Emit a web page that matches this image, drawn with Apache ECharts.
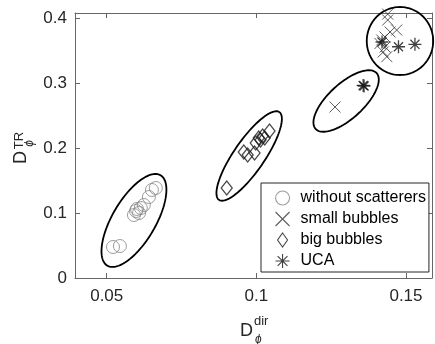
<!DOCTYPE html>
<html><head><meta charset="utf-8">
<script src="https://cdn.jsdelivr.net/npm/echarts@6/dist/echarts.min.js"></script>
<style>html,body{margin:0;padding:0;background:#fff}#c{width:435px;height:344px}</style>
</head><body><div id="c"></div>
<script>
// ---- data ----
const seriesNames = ['without scatterers', 'small bubbles', 'big bubbles', 'UCA'];
const withoutScatterers = [
  [0.0521,0.0477],[0.0544,0.0492],[0.0591,0.0969],[0.0598,0.1031],[0.0601,0.1062],
  [0.0608,0.1000],[0.0614,0.1077],[0.0624,0.1123],[0.0641,0.1246],[0.0651,0.1354],[0.0664,0.1385]
];
const smallBubbles = [
  [0.1263,0.2631],
  [0.1439,0.4060],[0.1439,0.3969],[0.1469,0.3815],[0.1447,0.3785],[0.1430,0.3708],
  [0.1419,0.3662],[0.1413,0.3608],[0.1430,0.3554],[0.1424,0.3477],[0.1436,0.3405]
];
const bigBubbles = [
  [0.0901,0.1385],[0.0958,0.1938],[0.0971,0.1892],[0.0994,0.1923],[0.0998,0.2077],
  [0.1008,0.2154],[0.1014,0.2123],[0.1021,0.2185],[0.1028,0.2154],[0.1044,0.2262]
];
const uca = [
  [0.1357,0.2962],[0.1360,0.2954],[0.1475,0.3558],[0.1530,0.3595],[0.1420,0.3631]
];
// cluster ellipses: [centerX, centerY, axis1EndX, axis1EndY, axis2EndX, axis2EndY]
const clusterEllipses = [
  [0.0591,0.0885, 0.0680,0.1580, 0.0653,0.0715],
  [0.0976,0.1877, 0.1077,0.2552, 0.1018,0.1740],
  [0.1300,0.2723, 0.1402,0.3152, 0.1339,0.2523],
  [0.1480,0.3646, 0.1480,0.4169, 0.1591,0.3646]
];
const xTicks = [0.05, 0.1, 0.15];
const xTickLabels = ['0.05', '0.1', '0.15'];
const yTicks = [0, 0.1, 0.2, 0.3, 0.4];
const yTickLabels = ['0', '0.1', '0.2', '0.3', '0.4'];
const xRange = [0.0394, 0.1587];
const yRange = [0, 0.4077];

// ---- chart ----
const FONT = '"Liberation Sans", Arial, Helvetica, sans-serif';
const AX = '#666';
function lab(ticks, labels) {
  return v => { for (let i = 0; i < ticks.length; i++) if (Math.abs(ticks[i] - v) < 1e-9) return labels[i]; return ''; };
}
const chart = echarts.init(document.getElementById('c'), null, {renderer: 'canvas'});
const axisCommon = {
  type: 'value', scale: false,
  splitLine: {show: false},
  axisLine: {show: true, onZero: false, lineStyle: {color: AX, width: 1}},
  axisTick: {show: true, inside: true, length: 5, lineStyle: {color: AX, width: 1}}
};
const ellipseSeries = {
  type: 'custom', name: 'ellipses', silent: true, clip: false, z: 1,
  data: clusterEllipses,
  renderItem: function (params, api) {
    const p0 = api.coord([api.value(0), api.value(1)]);
    const p1 = api.coord([api.value(2), api.value(3)]);
    const p2 = api.coord([api.value(4), api.value(5)]);
    const u = [p1[0] - p0[0], p1[1] - p0[1]], w = [p2[0] - p0[0], p2[1] - p0[1]];
    const pts = [];
    for (let k = 0; k < 120; k++) {
      const t = k / 120 * Math.PI * 2, c = Math.cos(t), s = Math.sin(t);
      pts.push([p0[0] + c * u[0] + s * w[0], p0[1] + c * u[1] + s * w[1]]);
    }
    return {type: 'polygon', shape: {points: pts}, style: {fill: 'none', stroke: '#000', lineWidth: 1.8}};
  }
};
function sc(name, data, symbol, size, stroke, lw) {
  return {
    type: 'scatter', name: name, data: data, symbol: symbol, symbolSize: size, clip: false, z: 3,
    itemStyle: {color: 'transparent', borderColor: stroke, borderWidth: lw},
    emphasis: {disabled: true}
  };
}
const X_PATH = 'path://M0 0L10 10M10 0L0 10';
const AST_PATH = 'path://M5 0L5 10M0 5L10 5M1.5 1.5L8.5 8.5M8.5 1.5L1.5 8.5';
const DIAMOND_PATH = 'path://M5 0L10 7L5 14L0 7Z';
chart.setOption({
  animation: false,
  backgroundColor: '#fff',
  textStyle: {fontFamily: FONT},
  grid: {left: 75, right: 3, top: 13, bottom: 66, containLabel: false, outerBoundsMode: 'none'},
  xAxis: [
    Object.assign({}, axisCommon, {position: 'bottom', min: xRange[0], max: xRange[1],
      axisTick: Object.assign({}, axisCommon.axisTick, {customValues: xTicks}),
      axisLabel: {customValues: xTicks, formatter: lab(xTicks, xTickLabels), color: '#262626', fontSize: 17, margin: 10, fontFamily: FONT}}),
    Object.assign({}, axisCommon, {position: 'top', min: xRange[0], max: xRange[1],
      axisTick: Object.assign({}, axisCommon.axisTick, {customValues: xTicks}),
      axisLabel: {show: false}})
  ],
  yAxis: [
    Object.assign({}, axisCommon, {position: 'left', min: yRange[0], max: yRange[1],
      axisTick: Object.assign({}, axisCommon.axisTick, {customValues: yTicks}),
      axisLabel: {customValues: yTicks, formatter: lab(yTicks, yTickLabels), color: '#262626', fontSize: 17, margin: 8, fontFamily: FONT}}),
    Object.assign({}, axisCommon, {position: 'right', min: yRange[0], max: yRange[1],
      axisTick: Object.assign({}, axisCommon.axisTick, {customValues: yTicks}),
      axisLabel: {show: false}})
  ],
  legend: {
    data: [
      {name: seriesNames[0], icon: 'circle'},
      {name: seriesNames[1], icon: X_PATH},
      {name: seriesNames[2], icon: DIAMOND_PATH},
      {name: seriesNames[3], icon: AST_PATH}
    ],
    orient: 'vertical', left: 261, top: 183,
    padding: [7, 3, 3, 14], itemGap: 5, itemWidth: 14, itemHeight: 14,
    borderColor: '#262626', borderWidth: 1, backgroundColor: '#fff',
    itemStyle: {borderWidth: 1.1},
    textStyle: {fontSize: 16, color: '#000', fontFamily: FONT, lineHeight: 16, padding: [0, 0, 0, 6]},
    selectedMode: false
  },
  series: [
    ellipseSeries,
    sc(seriesNames[0], withoutScatterers, 'circle', 13, '#858585', 1),
    sc(seriesNames[1], smallBubbles, X_PATH, 11, '#333', 1),
    sc(seriesNames[2], bigBubbles, DIAMOND_PATH, [11, 14], '#1a1a1a', 1.3),
    sc(seriesNames[3], uca, AST_PATH, 13, '#111', 1.3)
  ],
  graphic: [
    {type: 'text', style: {text: 'D', x: 240, y: 331, fontSize: 18, fontFamily: FONT, fill: '#262626', verticalAlign: 'middle'}},
    {type: 'text', style: {text: 'dir', x: 254, y: 321, fontSize: 13, fontFamily: FONT, fill: '#262626', verticalAlign: 'middle'}},
    {type: 'text', style: {text: 'ϕ', x: 255, y: 340, fontSize: 12, fontStyle: 'italic', fontFamily: FONT, fill: '#262626', verticalAlign: 'middle'}},
    {type: 'text', x: 21, y: 157.5, rotation: Math.PI / 2, style: {text: 'D', x: 0, y: 0, fontSize: 18, fontFamily: FONT, fill: '#262626', align: 'center', verticalAlign: 'middle'}},
    {type: 'text', x: 19, y: 140.5, rotation: Math.PI / 2, style: {text: 'TR', x: 0, y: 0, fontSize: 13, fontFamily: FONT, fill: '#262626', align: 'center', verticalAlign: 'middle'}},
    {type: 'text', x: 30, y: 143.5, rotation: Math.PI / 2, style: {text: 'ϕ', x: 0, y: 0, fontSize: 12, fontStyle: 'italic', fontFamily: FONT, fill: '#262626', align: 'center', verticalAlign: 'middle'}}
  ]
});
</script>
</body></html>
